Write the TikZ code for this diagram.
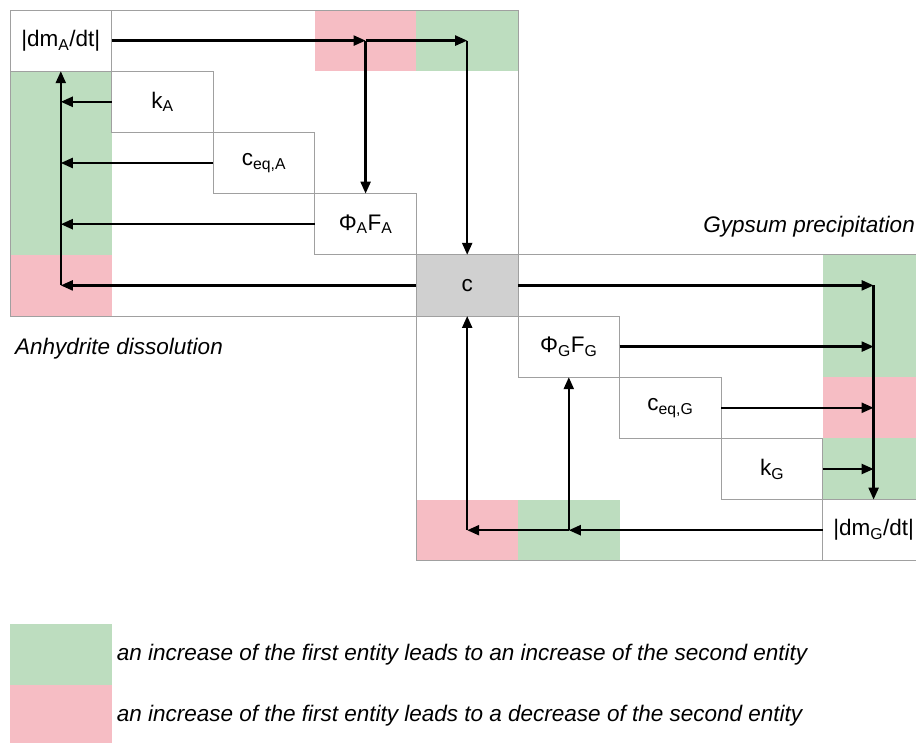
\documentclass[tikz,border=0pt]{standalone}
\usepackage{fontspec}
\setmainfont{Liberation Sans}
\usepackage{xcolor}
\usepackage{tikz}
\usetikzlibrary{
    arrows.meta,
    positioning,
    backgrounds
}

\definecolor{posgreen}{HTML}{BDDDBF}
\definecolor{negpink}{HTML}{F6BDC4}
\definecolor{concgray}{HTML}{D0D0D0}
\definecolor{gridgray}{HTML}{A0A0A0}

\begin{document}
\begin{tikzpicture}[
        x=1pt, y=1pt,
        node distance=0pt and 0pt,
        cell/.style={
            rectangle,
            draw=gridgray,
            line width=0.7pt,
            inner sep=0pt,
            outer sep=0pt,
            minimum width=101.6pt,
            minimum height=61.2pt,
            font=\fontsize{22.5}{27}\selectfont
        },
        posbox/.style={
            cell,
            draw=none,
            fill=posgreen
        },
        negbox/.style={
            cell,
            draw=none,
            fill=negpink
        },
        caption/.style={
            inner sep=0pt,
            font=\fontsize{22.5}{27}\selectfont\itshape
        },
        line/.style={
            -{Triangle[length=12pt,width=10pt]},
            line width=2.3pt
        }
    ]

    \clip (0,0) rectangle (916,-743);

    \node[cell, anchor=north west] (dmA) at (10,-10) {|dm\textsubscript{A}/dt|};
    \node[cell, below right=of dmA] (kA) {k\textsubscript{A}};
    \node[cell, below right=of kA] (ceqA) {c\textsubscript{eq,A}};
    \node[cell, below right=of ceqA] (phiA) {Φ\textsubscript{A}F\textsubscript{A}};
    \node[cell, fill=concgray, below right=of phiA] (c) {c};
    \node[cell, below right=of c] (phiG) {Φ\textsubscript{G}F\textsubscript{G}};
    \node[cell, below right=of phiG] (ceqG) {c\textsubscript{eq,G}};
    \node[cell, below right=of ceqG] (kG) {k\textsubscript{G}};
    \node[cell, below right=of kG] (dmG) {|dm\textsubscript{G}/dt|};

    \begin{scope}[on background layer]
        \node[negbox] (dmAphiA) at (phiA |- dmA) {};
        \node[posbox] (dmAc) at (c |- dmA) {};
        \node[posbox] (kAdmA) at (dmA |- kA) {};
        \node[posbox] (ceqAdmA) at (dmA |- ceqA) {};
        \node[posbox] (phiAdmA) at (dmA |- phiA) {};
        \node[negbox] (cdmA) at (dmA |- c) {};

        \node[posbox] (cdmG) at (dmG |- c) {};
        \node[posbox] (phiGdmG) at (dmG |- phiG) {};
        \node[negbox] (ceqGdmG) at (dmG |- ceqG) {};
        \node[posbox] (kGdmG) at (dmG |- kG) {};
        \node[negbox] (dmGc) at (c |- dmG) {};
        \node[posbox] (dmGphiG) at (phiG |- dmG) {};
    \end{scope}

    \draw[gridgray, line width=0.7pt] (dmA.north west) rectangle (c.south east);
    \draw[gridgray, line width=0.7pt] (c.north west) rectangle (dmG.south east);

    \node[caption, anchor=east] (gypsum) at (915,-227) {Gypsum precipitation};
    \node[caption, anchor=west] (anhydrite) at (15,-349) {Anhydrite dissolution};

    \draw[line] (dmA) -- (dmAphiA.center);
    \draw[line] (dmAphiA.center) -- (dmAc.center);
    \draw[line] (dmAphiA.center) -- (phiA);
    \draw[line] (dmAc.center) -- (c);

    \draw[line] (kA) -- (kAdmA.center);
    \draw[line] (ceqA) -- (ceqAdmA.center);
    \draw[line] (phiA) -- (phiAdmA.center);
    \draw[line] (c) -- (cdmA.center);
    \draw[line] (cdmA.center) -- (dmA);

    \draw[line] (c) -- (cdmG.center);
    \draw[line] (phiG) -- (phiGdmG.center);
    \draw[line] (ceqG) -- (ceqGdmG.center);
    \draw[line] (kG) -- (kGdmG.center);
    \draw[line] (cdmG.center) -- (dmG);

    \draw[line] (dmG) -- (dmGphiG.center);
    \draw[line] (dmGphiG.center) -- (dmGc.center);
    \draw[line] (dmGphiG.center) -- (phiG);
    \draw[line] (dmGc.center) -- (c);

    \node[posbox, anchor=north west] (legpos) at (10,-624) {};
    \node[negbox, below=of legpos] (legneg) {};
    \node[caption, right=5pt of legpos] (legpostext) {an increase of the first entity leads to an increase of the second entity};
    \node[caption, right=5pt of legneg] (legnegtext) {an increase of the first entity leads to a decrease of the second entity};

\end{tikzpicture}
\end{document}
